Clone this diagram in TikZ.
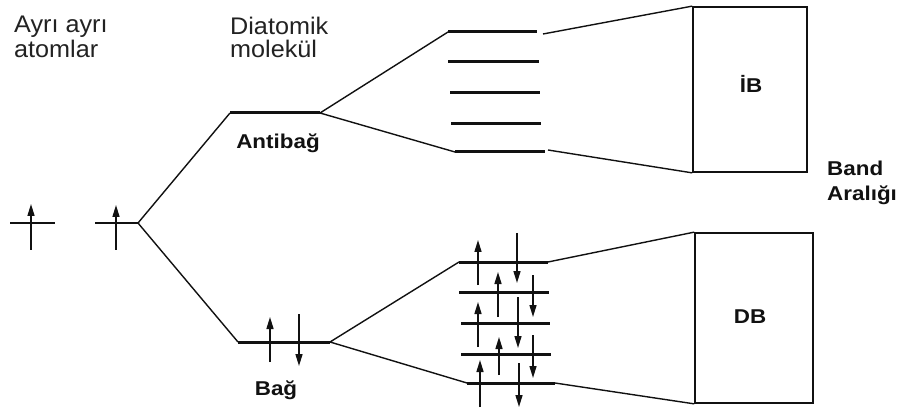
\documentclass[tikz,border=0pt]{standalone}
\usepackage{fontspec}
\setmainfont{Liberation Sans}
\newfontfamily\lightlbl[FakeStretch=1.05]{Liberation Sans}
\newfontfamily\boldlbl[FakeStretch=1.12]{Liberation Sans Bold}
\usetikzlibrary{arrows.meta}
\definecolor{ink}{HTML}{111111}
\definecolor{txt}{HTML}{222222}
\tikzset{
  lvl/.style={draw=ink, line width=3pt},
  atomlvl/.style={draw=ink, line width=2pt},
  conn/.style={draw=ink, line width=1.4pt},
  spin/.style={draw=ink, line width=1.5pt, -{Triangle[length=12pt,width=7pt]}},
  bandbox/.style={draw=ink, line width=1.7pt, rectangle, inner sep=0pt},
  toptext/.style={inner sep=0pt, anchor=base west, text=txt, font=\lightlbl\fontsize{24}{25}\selectfont},
  boldtext/.style={inner sep=0pt, anchor=base, text=ink, font=\boldlbl\fontsize{20}{22}\selectfont}
}
\begin{document}
\begin{tikzpicture}[x=1pt,y=-1pt]
\useasboundingbox (0,0) rectangle (897,414);
\fill[white] (0,0) rectangle (897,414);

% headings
\node[toptext] (h1a) at (14,33) {Ayrı ayrı};
\node[toptext] (h1b) at (14,58) {atomlar};
\node[toptext] (h2a) at (230,35) {Diatomik};
\node[toptext] (h2b) at (230,58) {molekül};

% separate atoms
\coordinate (a1w) at (10,223); \coordinate (a1e) at (55,223);
\coordinate (a2w) at (95,223); \coordinate (a2e) at (138,223);
\draw[atomlvl] (a1w) -- (a1e);
\draw[atomlvl] (a2w) -- (a2e);
\coordinate (s1b) at (31,250); \coordinate (s1t) at (31,204);
\coordinate (s2b) at (116,250); \coordinate (s2t) at (116,205);
\draw[spin] (s1b) -- (s1t);
\draw[spin] (s2b) -- (s2t);

% diatomic levels
\coordinate (abw) at (230,113); \coordinate (abe) at (320,113);
\coordinate (bw) at (238,342); \coordinate (be) at (330,342);
\draw[lvl] (abw) -- (abe);
\draw[lvl] (bw) -- (be);
\draw[conn] (abw) -- (a2e) -- (bw);
\node[boldtext] (lab1) at (278,149) {Antibağ};
\node[boldtext] (lab2) at (276,395) {Bağ};
\coordinate (bs1b) at (270,362); \coordinate (bs1t) at (270,317);
\coordinate (bs2t) at (299,314); \coordinate (bs2b) at (299,366);
\draw[spin] (bs1b) -- (bs1t);
\draw[spin] (bs2t) -- (bs2b);

% upper (antibonding) band levels
\coordinate (u1w) at (448,32);  \coordinate (u1e) at (537,32);
\coordinate (u2w) at (448,62);  \coordinate (u2e) at (539,62);
\coordinate (u3w) at (450,93);  \coordinate (u3e) at (540,93);
\coordinate (u4w) at (451,124); \coordinate (u4e) at (541,124);
\coordinate (u5w) at (455,152); \coordinate (u5e) at (545,152);
\foreach \i in {1,...,5} {\draw[lvl] (u\i w) -- (u\i e);}
\draw[conn] (u1w) -- (abe) -- (u5w);

% lower (bonding) band levels
\coordinate (d1w) at (459,262); \coordinate (d1e) at (548,262);
\coordinate (d2w) at (459,292); \coordinate (d2e) at (549,292);
\coordinate (d3w) at (461,323); \coordinate (d3e) at (550,323);
\coordinate (d4w) at (461,354); \coordinate (d4e) at (551,354);
\coordinate (d5w) at (467,383); \coordinate (d5e) at (555,383);
\foreach \i in {1,...,5} {\draw[lvl] (d\i w) -- (d\i e);}
\draw[conn] (d1w) -- (be) -- (d5w);

% spins in lower band
\foreach \x/\b/\t in {478/285/240, 498/317/272, 478/347/302, 499/375/337, 480/407/360}
  {\draw[spin] (\x,\b) -- (\x,\t);}
\foreach \x/\t/\b in {517/233/283, 533/275/317, 518/297/348, 533/335/378, 519/363/407}
  {\draw[spin] (\x,\t) -- (\x,\b);}

% bands
\node[bandbox, minimum width=114pt, minimum height=165pt] (ib) at (750,89.5) {};
\node[bandbox, minimum width=118pt, minimum height=170pt] (db) at (754,318) {};
\node[boldtext] (ibt) at (751,93) {İB};
\node[boldtext] (dbt) at (750,323) {DB};

\coordinate (u1r) at (543,34);
\coordinate (u5r) at (548,150);
\draw[conn] (u1r) -- (ib.north west);
\draw[conn] (u5r) -- (ib.south west);
\draw[conn] (d1e) -- (db.north west);
\draw[conn] (d5e) -- (db.south west);

\node[boldtext, anchor=base west] (gap1) at (827,176) {Band};
\node[boldtext, anchor=base west] (gap2) at (827,201) {Aralığı};
\end{tikzpicture}
\end{document}
